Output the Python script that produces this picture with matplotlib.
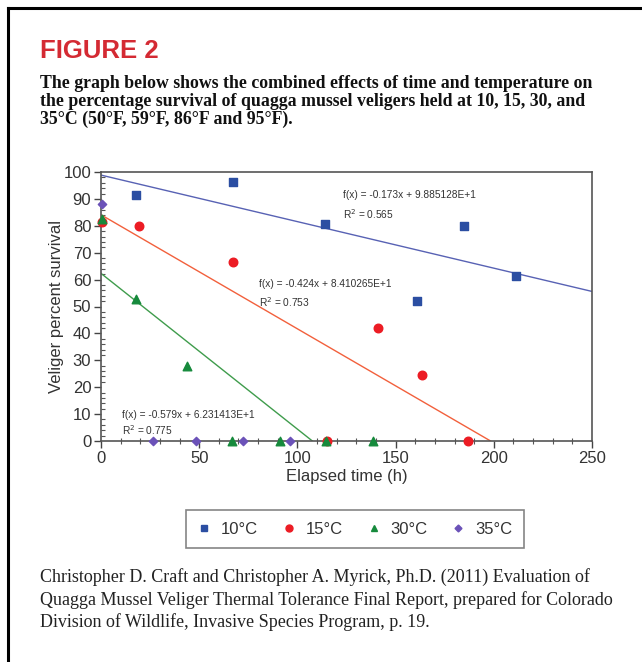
import numpy as np
import matplotlib
matplotlib.use('Agg')
import matplotlib.pyplot as plt
from matplotlib.ticker import MultipleLocator
from matplotlib.lines import Line2D

# datos
x_10 = [17.7, 67.2, 113.9, 161.1, 184.7, 211.1]
y_10 = [91.3, 96.4, 80.8, 51.9, 79.9, 61.5]

x_15 = [0.3, 19.2, 67.0, 114.9, 141.0, 163.6, 187.0]
y_15 = [81.5, 80.0, 66.6, 0.0, 41.9, 24.7, 0.0]

x_30 = [0.3, 17.8, 43.8, 66.5, 91.0, 114.4, 138.3]
y_30 = [82.4, 52.7, 28.0, 0.0, 0.0, 0.0, 0.0]

x_35 = [0.3, 26.6, 48.4, 72.3, 96.2]
y_35 = [88.2, 0.0, 0.0, 0.0, 0.0]

# rectas de tendencia (pendiente, intercepto)
tendencias = {
    '10': (-0.173, 98.85128),
    '15': (-0.424, 84.10265),
    '30': (-0.579, 62.31413),
}
r2 = {'10': 0.565, '15': 0.753, '30': 0.775}
etiquetas = ['10°C', '15°C', '30°C', '35°C']

azul = '#2b4ea2'
rojo = '#ec1c24'
verde = '#168a3c'
morado = '#6b52b8'

plt.rcParams['font.family'] = ['Liberation Sans', 'DejaVu Sans']

fig = plt.figure(figsize=(6.42, 6.62), dpi=100)

# marco de la pagina (solo izquierda y arriba)
fig.add_artist(Line2D([0.012, 0.012], [0, 0.988], transform=fig.transFigure, color='black', lw=2.2))
fig.add_artist(Line2D([0.012, 1.0], [0.988, 0.988], transform=fig.transFigure, color='black', lw=2.2))

fig.text(40 / 642, 1 - 58 / 662, 'FIGURE 2', color='#d42a33', fontsize=18.5, fontweight='bold',
         va='baseline')

texto = ('The graph below shows the combined effects of time and temperature on\n'
         'the percentage survival of quagga mussel veligers held at 10, 15, 30, and\n'
         '35°C (50°F, 59°F, 86°F and 95°F).')
fig.text(40 / 642, 1 - 75 / 662, texto, fontsize=12.8, fontweight='bold', family='Liberation Serif',
         va='top', linespacing=1.08, color='#111111')

cita = ('Christopher D. Craft and Christopher A. Myrick, Ph.D. (2011) Evaluation of\n'
        'Quagga Mussel Veliger Thermal Tolerance Final Report, prepared for Colorado\n'
        'Division of Wildlife, Invasive Species Program, p. 19.')
fig.text(40 / 642, 1 - 568 / 662, cita, fontsize=13, family='Liberation Serif',
         va='top', linespacing=1.34, color='#222222')

ax = fig.add_axes([101 / 642, 1 - 441 / 662, 491 / 642, 269 / 662])

xs = np.array([0, 250])
m, b = tendencias['10']
ax.plot(xs, m * xs + b, color='#5862b4', lw=1.0)
m, b = tendencias['15']
x_fin = -b / m
ax.plot([0, x_fin], [b, 0], color='#f2603c', lw=1.0)
m, b = tendencias['30']
x_fin = -b / m
ax.plot([0, x_fin], [b, 0], color='#3f9c4c', lw=1.0)

ax.scatter(x_10, y_10, marker='s', s=38, color=azul, zorder=3, clip_on=False)
ax.scatter(x_15, y_15, marker='o', s=38, color=rojo, zorder=3, clip_on=False)
ax.scatter(x_30, y_30, marker='^', s=38, color=verde, zorder=3, clip_on=False)
ax.scatter(x_35, y_35, marker='D', s=18, color=morado, zorder=3, clip_on=False)

fs_ann = 7.3
ax.text(123, 91.5, 'f(x) = -0.173x + 9.885128E+1', fontsize=fs_ann, color='#333333', va='center')
ax.text(123, 84.5, 'R$^2$ = 0.565', fontsize=fs_ann, color='#333333', va='center')
ax.text(80.5, 58.5, 'f(x) = -0.424x + 8.410265E+1', fontsize=fs_ann, color='#333333', va='center')
ax.text(80.5, 51.5, 'R$^2$ = 0.753', fontsize=fs_ann, color='#333333', va='center')
ax.text(10.5, 9.5, 'f(x) = -0.579x + 6.231413E+1', fontsize=fs_ann, color='#333333', va='center')
ax.text(10.5, 4.2, 'R$^2$ = 0.775', fontsize=fs_ann, color='#333333', va='center')

ax.set_xlim(0, 250)
ax.set_ylim(0, 100)
ax.xaxis.set_major_locator(MultipleLocator(50))
ax.xaxis.set_minor_locator(MultipleLocator(10))
ax.yaxis.set_major_locator(MultipleLocator(10))
ax.yaxis.set_minor_locator(MultipleLocator(2))
ax.tick_params(axis='both', which='major', labelsize=12, length=5, width=1, color='#444444',
               labelcolor='#333333', direction='out', pad=2)
ax.tick_params(axis='x', which='minor', length=4, width=0.8, direction='inout', color='#555555')
ax.tick_params(axis='y', which='minor', length=3, width=0.8, direction='in', color='#555555')
for sp in ax.spines.values():
    sp.set_color('#555555')
    sp.set_linewidth(1.2)

ax.set_xlabel('Elapsed time (h)', fontsize=12, color='#333333', labelpad=2)
ax.set_ylabel('Veliger percent survival', fontsize=12, color='#333333', labelpad=0)

handles = [
    Line2D([], [], ls='', marker='s', ms=5, color=azul),
    Line2D([], [], ls='', marker='o', ms=5, color=rojo),
    Line2D([], [], ls='', marker='^', ms=5, color=verde),
    Line2D([], [], ls='', marker='D', ms=3.5, color=morado),
]
leg = fig.legend(handles, etiquetas, ncol=4, loc='center', bbox_to_anchor=(355 / 642, 1 - 529 / 662),
                 fontsize=12, frameon=True, fancybox=False, edgecolor='#666666',
                 handlelength=0.8, handletextpad=0.6, columnspacing=1.45, borderpad=0.7)
leg.get_frame().set_linewidth(1.2)
for t in leg.get_texts():
    t.set_color('#333333')

fig.savefig('out.png', dpi=100)
